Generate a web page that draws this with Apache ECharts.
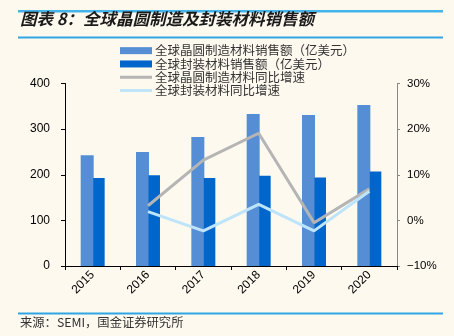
<!DOCTYPE html>
<html>
<head>
<meta charset="utf-8">
<script src="https://cdn.jsdelivr.net/npm/echarts@6/dist/echarts.min.js"></script>
<style>
html,body{margin:0;padding:0;background:#FDF9EF;}
#c{width:454px;height:336px;}
</style>
</head>
<body>
<div id="c"></div>
<script>
const categories = ['2015','2016','2017','2018','2019','2020'];
const waferSales = [243, 250, 283, 333, 331, 353];
const packSales = [193, 199, 193, 198, 194, 207];
const waferYoY = [null, 3.2, 13.2, 19.1, -0.5, 6.9];
const packYoY = [null, 1.9, -2.3, 3.5, -2.3, 6.4];
const leftTicks = [0, 100, 200, 300, 400];
const rightTicks = [-10, 0, 10, 20, 30];

const seriesNames = ['全球晶圆制造材料销售额（亿美元）','全球封装材料销售额（亿美元）','全球晶圆制造材料同比增速','全球封装材料同比增速'];
const fontCJK = '"Noto Sans CJK SC", sans-serif';
const fontLat = 'Arial, "Liberation Sans", sans-serif';
const lineIcon = 'path://M0,0H32V3H0Z';

const chart = echarts.init(document.getElementById('c'), null, {renderer:'canvas'});
chart.setOption({
  backgroundColor: '#FDF9EF',
  animation: false,
  grid: {left: 65, right: 57, top: 83.5, bottom: 70, containLabel: false},
  legend: {
    orient: 'vertical', left: 120, top: 44, itemWidth: 32, itemHeight: 7, itemGap: 0,
    padding: 0,
    textStyle: {fontFamily: fontCJK, fontSize: 12.5, lineHeight: 13.3, color: '#333', padding:[0,0,0,-2]},
    data: [
      {name: seriesNames[0], icon: 'rect'},
      {name: seriesNames[1], icon: 'rect'},
      {name: seriesNames[2], icon: lineIcon},
      {name: seriesNames[3], icon: lineIcon}
    ]
  },
  graphic: [
    {type:'rect', shape:{x:18, y:10, width:425, height:2.5}, style:{fill:'#45B4EA'}},
    {type:'rect', shape:{x:18, y:36.5, width:425, height:2}, style:{fill:'#2FA6E3'}},
    {type:'rect', shape:{x:18, y:312.5, width:425, height:2}, style:{fill:'#2FA6E3'}},
    {type:'text', left: 20, top: 10, style:{text:'图表 8：全球晶圆制造及封装材料销售额', font:'italic bold 16.5px "Noto Sans CJK SC"', fill:'#1a1a1a'}},
    {type:'text', left: 20, top: 316, style:{text:'来源：SEMI，国金证券研究所', font:'12.3px "Noto Sans CJK SC"', fill:'#333'}}
  ],
  xAxis: {
    type: 'category', data: categories, boundaryGap: true,
    axisLine: {lineStyle: {color: '#000', width: 1}},
    axisTick: {show: true, length: 4, lineStyle: {color: '#000'}},
    axisLabel: {rotate: 45, fontFamily: fontLat, fontSize: 12, color: '#000', margin: 7}
  },
  yAxis: [
    {
      type: 'value', min: 0, max: 400, interval: 100,
      axisLine: {show: true, lineStyle: {color: '#000'}},
      axisTick: {show: true, length: 4, lineStyle: {color: '#000'}},
      splitLine: {show: false},
      axisLabel: {fontFamily: fontLat, fontSize: 12, color: '#000', margin: 15,
        formatter: v => leftTicks.includes(v) ? String(v) : ''}
    },
    {
      type: 'value', min: -10, max: 30, interval: 10, position: 'right',
      axisLine: {show: true, lineStyle: {color: '#888'}},
      axisTick: {show: true, length: 3, lineStyle: {color: '#888'}},
      splitLine: {show: false},
      axisLabel: {fontFamily: fontLat, fontSize: 11.5, color: '#000', margin: 10,
        formatter: v => rightTicks.includes(v) ? (v < 0 ? '\u2212' + Math.abs(v) + '%' : v + '%') : ''}
    }
  ],
  series: [
    {name: seriesNames[0], type: 'bar', data: waferSales, barWidth: 13, barGap: '-4%',
      itemStyle: {color: '#558ED5'}},
    {name: seriesNames[1], type: 'bar', data: packSales, barWidth: 11.5,
      itemStyle: {color: '#0066CC'}},
    {name: seriesNames[2], type: 'line', yAxisIndex: 1, data: waferYoY, symbol: 'none',
      lineStyle: {color: '#B5B5B5', width: 3}, itemStyle: {color: '#B5B5B5'}},
    {name: seriesNames[3], type: 'line', yAxisIndex: 1, data: packYoY, symbol: 'none',
      lineStyle: {color: '#BDE4F9', width: 3}, itemStyle: {color: '#BDE4F9'}}
  ]
});
</script>
</body>
</html>
